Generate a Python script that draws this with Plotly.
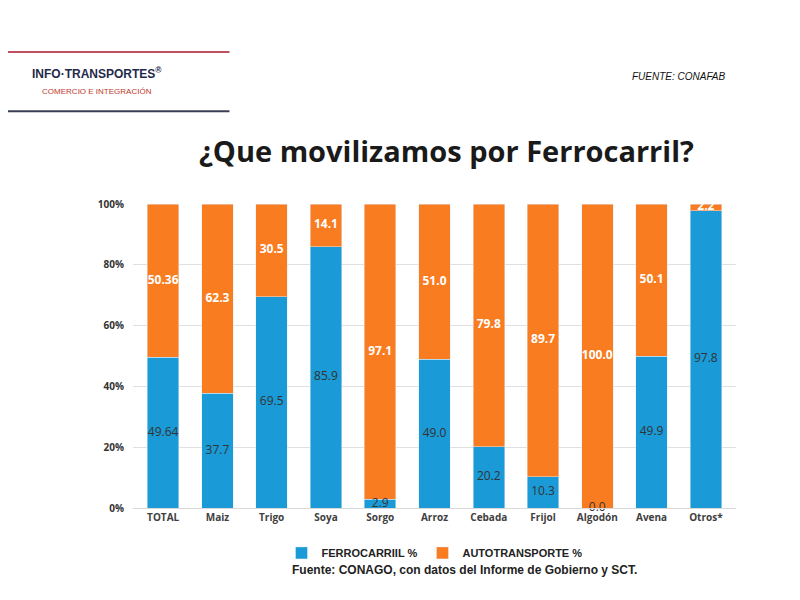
import plotly.graph_objects as go

categories = ["TOTAL","Maiz","Trigo","Soya","Sorgo","Arroz","Cebada","Frijol","Algodón","Avena","Otros*"]
ferro = [49.64,37.7,69.5,85.9,2.9,49.0,20.2,10.3,0.0,49.9,97.8]
auto = [50.36,62.3,30.5,14.1,97.1,51.0,79.8,89.7,100.0,50.1,2.2]
ferro_lbl = ["49.64","37.7","69.5","85.9","2.9","49.0","20.2","10.3","0.0","49.9","97.8"]
auto_lbl = ["50.36","62.3","30.5","14.1","97.1","51.0","79.8","89.7","100.0","50.1","2.2"]

fig = go.Figure()
fig.add_bar(x=categories, y=ferro, name="<b>FERROCARRIIL %</b>", marker_color="#1A9AD6")
fig.add_bar(x=categories, y=auto, name="<b>AUTOTRANSPORTE %</b>", marker_color="#F97C20")
fig.add_scatter(x=categories, y=[f/2 for f in ferro], mode="text", text=ferro_lbl, showlegend=False,
                textfont=dict(color="#333333", size=12, family="Open Sans"), cliponaxis=False, hoverinfo="skip")
fig.add_scatter(x=categories, y=[f + a/2 for f, a in zip(ferro, auto)], mode="text",
                text=["<b>%s</b>" % t for t in auto_lbl], showlegend=False,
                textfont=dict(color="white", size=12, family="Open Sans"), cliponaxis=False, hoverinfo="skip")

fig.update_layout(
    barmode="stack", bargap=0.42, width=800, height=600,
    paper_bgcolor="white", plot_bgcolor="white",
    margin=dict(l=125, r=72, t=196, b=100, autoexpand=False),
    font=dict(family="Open Sans", color="#404040"),
    yaxis=dict(range=[0,100], tickvals=[0,20,40,60,80,100], ticktext=["<b>0%</b>","<b>20%</b>","<b>40%</b>","<b>60%</b>","<b>80%</b>","<b>100%</b>"],
               gridcolor="#E0E0E0", tickfont=dict(size=10, color="#333333", family="Open Sans"), zeroline=False,
               ticklabelstandoff=8),
    xaxis=dict(tickfont=dict(size=10, color="#404040", family="Open Sans"), showline=True, linecolor="#D9D9D9",
               tickvals=categories, ticktext=["<b>%s</b>" % c for c in categories], tickangle=0),
    legend=dict(orientation="h", x=0.5, xanchor="center", y=-0.1, yanchor="top", traceorder="normal",
                font=dict(size=11, color="#222222", family="Liberation Sans"), itemwidth=30),
)
fig.add_annotation(text="<b>¿Que movilizamos por Ferrocarril?</b>", x=0.52, xref="paper", xanchor="center",
                   y=1.175, yref="paper", yanchor="middle", showarrow=False,
                   font=dict(size=29, color="#1a1a1a", family="Open Sans"))
fig.add_annotation(text="<i>FUENTE: CONAFAB</i>", x=0.985, xref="paper", xanchor="right", y=1.42, yref="paper",
                   yanchor="middle", showarrow=False, font=dict(size=10, color="#111111", family="Liberation Sans"))
fig.add_annotation(text="<b>Fuente: CONAGO, con datos del Informe de Gobierno y SCT.</b>", x=0.55, xref="paper",
                   xanchor="center", y=-0.205, yref="paper", yanchor="middle", showarrow=False,
                   font=dict(size=12, color="#222222", family="Liberation Sans"))
fig.add_annotation(text="<b>INFO·TRANSPORTES<sup>®</sup></b><br><span style='color:#c0392b;font-size:8px'>COMERCIO E INTEGRACIÓN</span>",
                   x=-0.06, xref="paper", y=1.405, yref="paper", xanchor="center", yanchor="middle", showarrow=False,
                   font=dict(size=12, color="#1f2a4a", family="Liberation Sans"))
fig.add_shape(type="line", xref="paper", yref="paper", x0=-0.21, x1=0.16, y0=1.5, y1=1.5,
              line=dict(color="#c05060", width=2))
fig.add_shape(type="line", xref="paper", yref="paper", x0=-0.21, x1=0.16, y0=1.305, y1=1.305,
              line=dict(color="#3a3f55", width=2))
fig.write_html("out.html")
